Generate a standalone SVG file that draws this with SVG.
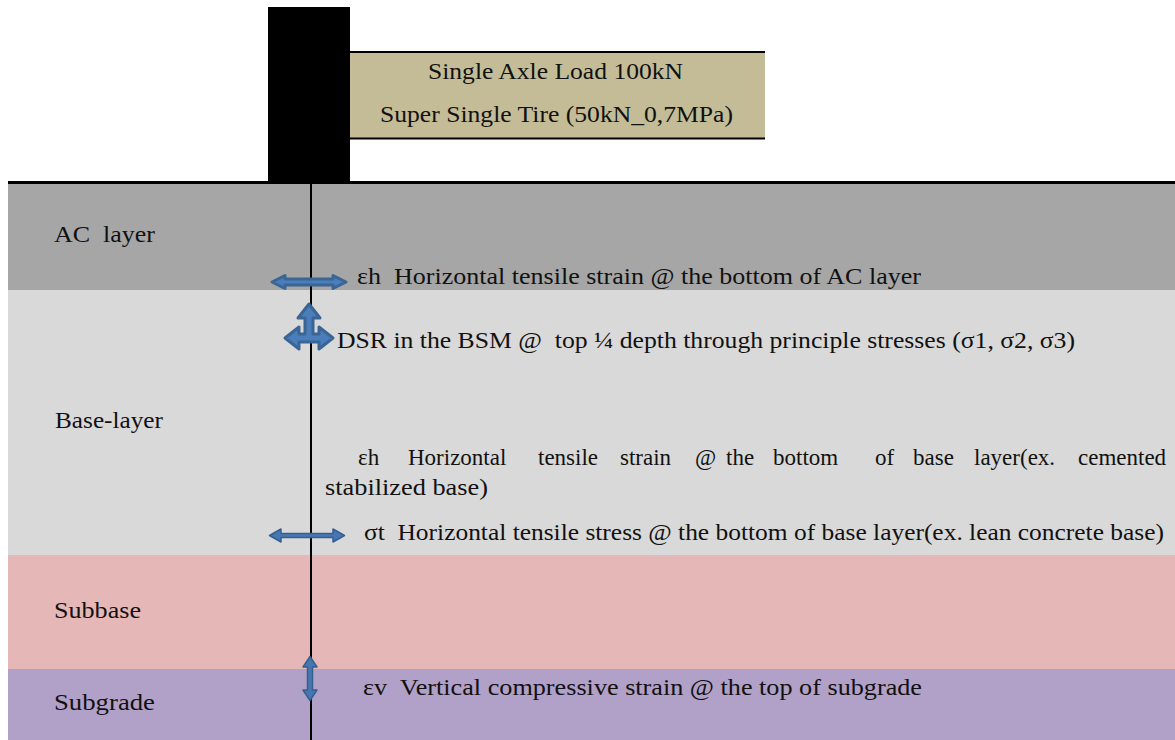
<svg xmlns="http://www.w3.org/2000/svg" width="1175" height="740" viewBox="0 0 1175 740">
  <style>
    text { font-family: "Liberation Serif", "DejaVu Serif", serif; fill: #111; white-space: pre; }
    .lbl { font-size: 23px; }
    .ann { font-size: 23px; }
    .arrow { fill: #4677B0; stroke: #365F91; stroke-width: 1.5; stroke-linejoin: round; }
    .arrowBold { fill: #4A7EBB; stroke: #3A6594; stroke-width: 3; stroke-linejoin: round; }
  </style>

  <rect x="0" y="0" width="1175" height="740" fill="#ffffff"/>

  <!-- Pavement layers -->
  <g id="ac-layer">
    <rect x="8" y="183" width="1167" height="107" fill="#A6A6A6"/>
    <text class="lbl" x="54" y="242" textLength="101" lengthAdjust="spacingAndGlyphs">AC  layer</text>
  </g>
  <g id="base-layer">
    <rect x="8" y="290" width="1167" height="265" fill="#D9D9D9"/>
    <text class="lbl" x="55" y="428" textLength="108" lengthAdjust="spacingAndGlyphs">Base-layer</text>
  </g>
  <g id="subbase">
    <rect x="8" y="555" width="1167" height="114" fill="#E6B7B7"/>
    <text class="lbl" x="54" y="618" textLength="87" lengthAdjust="spacingAndGlyphs">Subbase</text>
  </g>
  <g id="subgrade">
    <rect x="8" y="669" width="1167" height="71" fill="#B1A0C7"/>
    <text class="lbl" x="54" y="710" textLength="101" lengthAdjust="spacingAndGlyphs">Subgrade</text>
  </g>
  <line x1="8" y1="182.5" x2="1175" y2="182.5" stroke="#000" stroke-width="3"/>

  <!-- Wheel load -->
  <g id="tire">
    <rect x="268" y="7" width="82" height="176" fill="#000"/>
  </g>
  <g id="load-box">
    <rect x="350" y="52" width="415" height="87" fill="#C4BC97"/>
    <line x1="350" y1="52" x2="765" y2="52" stroke="#000" stroke-width="2"/>
    <line x1="350" y1="138.5" x2="765" y2="138.5" stroke="#000" stroke-width="2"/>
    <text class="ann" x="428" y="79" textLength="255" lengthAdjust="spacingAndGlyphs">Single Axle Load 100kN</text>
    <text class="ann" x="380" y="122" textLength="353" lengthAdjust="spacingAndGlyphs">Super Single Tire (50kN_0,7MPa)</text>
  </g>

  <!-- Load axis and response arrows -->
  <g id="connectors">
    <line x1="311" y1="183" x2="311" y2="740" stroke="#000" stroke-width="2"/>
    <!-- horizontal strain, bottom of AC -->
    <path class="arrowBold" d="M272,282 L285,275.5 L285,279 L333,279 L333,275.5 L346,282 L333,288.5 L333,285 L285,285 L285,288.5 Z"/>
    <!-- DSR three-way arrow -->
    <path class="arrowBold" d="M309,304 L320,318 L313,318 L313,334 L319,334 L319,327 L333,338 L319,349 L319,342 L299,342 L299,349 L285,338 L299,327 L299,334 L305,334 L305,318 L298,318 Z"/>
    <!-- tensile stress, bottom of base -->
    <path class="arrow" d="M269.5,535.5 L281,529 L281,533.5 L333,533.5 L333,529 L344.5,535.5 L333,542 L333,537.5 L281,537.5 L281,542 Z"/>
    <!-- vertical strain, top of subgrade -->
    <path class="arrow" d="M310,656.5 L317,667 L312.5,667 L312.5,690 L317,690 L310,700.5 L303,690 L307.5,690 L307.5,667 L303,667 Z"/>
  </g>

  <!-- Annotations -->
  <g id="label-eh-ac">
    <text class="ann" x="357" y="284" textLength="564" lengthAdjust="spacingAndGlyphs">εh  Horizontal tensile strain @ the bottom of AC layer</text>
  </g>
  <g id="label-dsr">
    <text class="ann" x="337" y="348" textLength="738" lengthAdjust="spacingAndGlyphs">DSR in the BSM @  top ¼ depth through principle stresses (σ1, σ2, σ3)</text>
  </g>
  <g id="label-eh-base">
    <text class="ann" y="465"><tspan x="358">εh</tspan><tspan x="408">Horizontal</tspan><tspan x="538">tensile</tspan><tspan x="620">strain</tspan><tspan x="695">@</tspan><tspan x="726">the</tspan><tspan x="773">bottom</tspan><tspan x="875">of</tspan><tspan x="913">base</tspan><tspan x="974">layer(ex.</tspan><tspan x="1078">cemented</tspan></text>
    <text class="ann" x="325" y="495" textLength="163" lengthAdjust="spacingAndGlyphs">stabilized base)</text>
  </g>
  <g id="label-st">
    <text class="ann" x="364" y="540" textLength="800" lengthAdjust="spacingAndGlyphs">σt  Horizontal tensile stress @ the bottom of base layer(ex. lean concrete base)</text>
  </g>
  <g id="label-ev">
    <text class="ann" x="363" y="695" textLength="559" lengthAdjust="spacingAndGlyphs">εv  Vertical compressive strain @ the top of subgrade</text>
  </g>
</svg>
